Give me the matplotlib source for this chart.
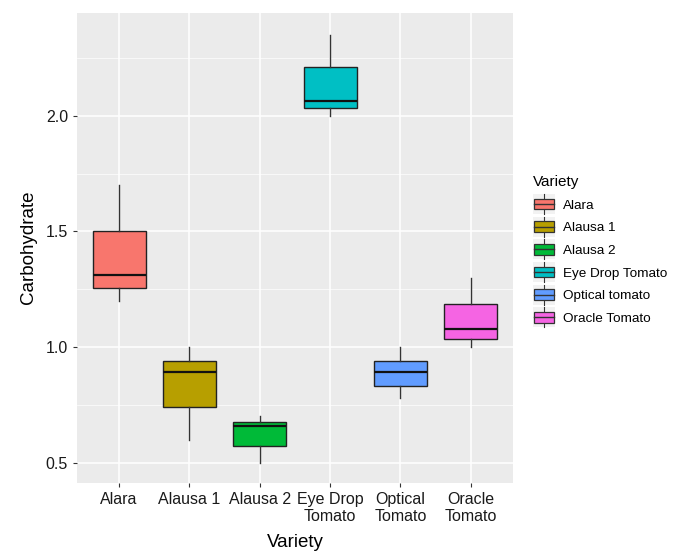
import matplotlib
matplotlib.use("Agg")
import matplotlib.pyplot as plt
from matplotlib.patches import Rectangle
from matplotlib.lines import Line2D
from matplotlib.legend_handler import HandlerBase

plt.rcParams["font.family"] = ["Liberation Sans", "DejaVu Sans"]

# ---------------------------------------------------------------------------
# Data
# ---------------------------------------------------------------------------
tick_labels = ["Alara", "Alausa 1", "Alausa 2", "Eye Drop\nTomato",
               "Optical\nTomato", "Oracle\nTomato"]
legend_labels = ["Alara", "Alausa 1", "Alausa 2", "Eye Drop Tomato",
                 "Optical tomato", "Oracle Tomato"]
whis_lo = [1.20, 0.60, 0.50, 2.00, 0.78, 1.00]
q1      = [1.255, 0.74, 0.574, 2.035, 0.83, 1.034]
median  = [1.312, 0.892, 0.657, 2.065, 0.892, 1.077]
q3      = [1.50, 0.94, 0.675, 2.21, 0.94, 1.185]
whis_hi = [1.70, 1.00, 0.70, 2.35, 1.00, 1.30]
colors  = ["#F8766D", "#B79F00", "#00BA38", "#00BFC4", "#619CFF", "#F564E3"]


class BoxKey(HandlerBase):
    """ggplot-like boxplot legend key."""
    def create_artists(self, legend, orig_handle, xd, yd, width, height,
                       fontsize, trans):
        cx = width / 2 - xd
        cy = height / 2 - yd
        bh = height * 1.05
        by = cy - bh / 2
        top = cy + height
        bot = cy - height
        bg = Rectangle((cx - width / 2, bot), width, top - bot,
                       facecolor="#F2F2F2", edgecolor="none", transform=trans)
        whisk = Line2D([cx, cx], [bot, top], color="#333333", lw=0.8,
                       transform=trans)
        box = Rectangle((cx - 0.45 * width, by), 0.9 * width, bh,
                        facecolor=orig_handle.get_facecolor(),
                        edgecolor="#333333", lw=0.9, transform=trans)
        med = Line2D([cx - 0.45 * width, cx + 0.45 * width], [cy, cy],
                     color="#333333", lw=1.0, transform=trans)
        return [bg, whisk, box, med]


fig = plt.figure(figsize=(6.75, 5.53), dpi=100)
ax = fig.add_axes([0.114, 0.127, 0.646, 0.85])
ax.set_facecolor("#EBEBEB")

stats = []
for i in range(len(tick_labels)):
    stats.append({"whislo": whis_lo[i], "q1": q1[i], "med": median[i],
                  "q3": q3[i], "whishi": whis_hi[i], "fliers": []})

pos = list(range(1, len(tick_labels) + 1))
bp = ax.bxp(stats, positions=pos, widths=0.75, patch_artist=True,
            showcaps=False, showfliers=False,
            boxprops=dict(edgecolor="#222222", linewidth=1.0),
            medianprops=dict(color="#111111", linewidth=1.6),
            whiskerprops=dict(color="#333333", linewidth=1.0),
            zorder=3)
for patch, c in zip(bp["boxes"], colors):
    patch.set_facecolor(c)

ax.set_xlim(0.4, len(tick_labels) + 0.6)
ax.set_ylim(0.413, 2.446)
ax.set_yticks([0.5, 1.0, 1.5, 2.0])
ax.set_yticks([0.75, 1.25, 1.75, 2.25], minor=True)
ax.set_xticks(pos)
ax.set_xticklabels(tick_labels)
ax.tick_params(axis="both", which="major", length=3, color="#333333",
               labelsize=11.5, labelcolor="#1a1a1a")
ax.tick_params(axis="y", which="minor", length=0)
ax.grid(which="major", color="white", linewidth=1.1, zorder=0)
ax.grid(which="minor", axis="y", color="white", linewidth=0.5, zorder=0)
ax.set_axisbelow(True)
for s in ax.spines.values():
    s.set_visible(False)

ax.set_xlabel("Variety", fontsize=13.5, labelpad=7)
ax.set_ylabel("Carbohydrate", fontsize=13.5, labelpad=6)

handles = [Rectangle((0, 0), 1, 1, facecolor=c) for c in colors]
leg = fig.legend(handles, legend_labels, title="Variety",
                 loc="center left", bbox_to_anchor=(0.772, 0.548),
                 frameon=False, fontsize=9.7, title_fontsize=11,
                 handler_map={Rectangle: BoxKey()},
                 handlelength=1.6, handleheight=0.77, labelspacing=0.74,
                 handletextpad=0.6)
leg._legend_box.align = "left"

fig.savefig("out.png", dpi=100)
